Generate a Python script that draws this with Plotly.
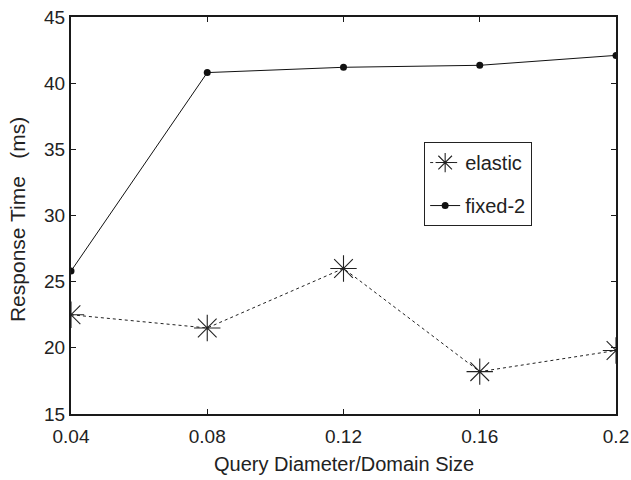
import plotly.graph_objects as go

# Query diameter relative to domain size
query_diameter = [0.04, 0.08, 0.12, 0.16, 0.2]
tick_labels = ["0.04", "0.08", "0.12", "0.16", "0.2"]

# Response time (ms) per strategy
elastic = [22.5, 21.5, 26.0, 18.2, 19.8]
fixed_2 = [25.8, 40.8, 41.2, 41.35, 42.1]

font_family = "Liberation Sans, Arial, sans-serif"
ink = "#222222"

fig = go.Figure()
fig.add_trace(go.Scatter(
    x=query_diameter, y=elastic, name="elastic", mode="lines+markers",
    legendgroup="elastic",
    line=dict(color=ink, width=1, dash="dot"),
    marker=dict(symbol="asterisk-open", size=22, color=ink,
                line=dict(color=ink, width=1.1)),
))
fig.add_trace(go.Scatter(
    x=query_diameter, y=fixed_2, name="fixed-2", mode="lines+markers",
    legendgroup="fixed",
    line=dict(color="#111111", width=1),
    marker=dict(symbol="circle", size=7, color="#111111"),
))

axis_common = dict(
    automargin=False,
    showgrid=False, zeroline=False, showline=True, linecolor="#1a1a1a",
    linewidth=2, mirror="allticks", ticks="inside", ticklen=5,
    tickcolor="#1a1a1a", tickfont=dict(size=19, color=ink, family=font_family),
)

fig.update_layout(
    width=631, height=480,
    margin=dict(l=71, r=15, t=17, b=66),
    paper_bgcolor="white", plot_bgcolor="white",
    font=dict(family=font_family, color=ink),
    showlegend=True,
    legend=dict(
        x=0.648, y=0.685, xanchor="left", yanchor="top",
        bgcolor="white", bordercolor=ink, borderwidth=1,
        font=dict(size=20, family=font_family, color=ink),
        itemwidth=30, tracegroupgap=14,
    ),
    xaxis=dict(
        range=[0.04, 0.2], tickvals=query_diameter, ticktext=tick_labels,
        ticklabelstandoff=4,
        **axis_common,
    ),
    yaxis=dict(
        range=[15, 45], tickvals=[15, 20, 25, 30, 35, 40, 45],
        **axis_common,
    ),
    annotations=[
        dict(text="Query Diameter/Domain Size", xref="paper", yref="paper",
             x=0.5, y=-0.125, xanchor="center", yanchor="middle",
             showarrow=False, font=dict(size=20, family=font_family, color=ink)),
        dict(text="Response Time\u00a0\u00a0 (ms)", xref="paper", yref="paper",
             x=-0.098, y=0.49, xanchor="center", yanchor="middle",
             textangle=-90, showarrow=False,
             font=dict(size=21, family=font_family, color=ink)),
    ],
)

fig.write_html("out.html")
